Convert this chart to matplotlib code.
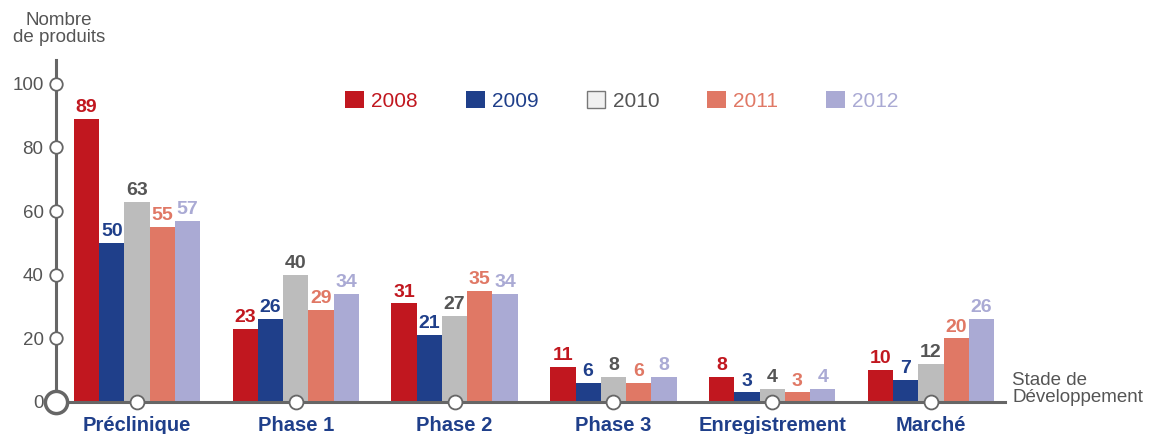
import numpy as np
import matplotlib.pyplot as plt
from matplotlib.patches import Patch

plt.rcParams['font.family'] = ['Liberation Sans', 'DejaVu Sans']

# data
stages = ['Préclinique', 'Phase 1', 'Phase 2', 'Phase 3', 'Enregistrement', 'Marché']
years = ['2008', '2009', '2010', '2011', '2012']
v2008 = [89, 23, 31, 11, 8, 10]
v2009 = [50, 26, 21, 6, 3, 7]
v2010 = [63, 40, 27, 8, 4, 12]
v2011 = [55, 29, 35, 6, 3, 20]
v2012 = [57, 34, 34, 8, 4, 26]
yticks = [0, 20, 40, 60, 80, 100]

series = [v2008, v2009, v2010, v2011, v2012]
bar_colors = ['#c1171f', '#1f3f8a', '#bcbcbc', '#e07865', '#aaaad4']
txt_colors = ['#c1171f', '#1f3f8a', '#555555', '#e07865', '#aaaad4']
grey = '#666666'

fig = plt.figure(figsize=(11.52, 4.34), dpi=100)
ax = fig.add_axes([56/1152, 32/434, (1005-56)/1152, 342/434])

x = np.arange(len(stages))
w = 0.159
for i, vals in enumerate(series):
    pos = x + (i - 2) * w
    ax.bar(pos, vals, width=w, color=bar_colors[i], zorder=2)
    for p, v in zip(pos, vals):
        ax.text(p, v + 0.9, str(v), ha='center', va='bottom', fontsize=14,
                fontweight='bold', color=txt_colors[i])

ax.set_xlim(-0.51, 5.466)
ax.set_ylim(0, 107.5)
for s in ['top', 'right']:
    ax.spines[s].set_visible(False)
for s in ['left', 'bottom']:
    ax.spines[s].set_color(grey)
    ax.spines[s].set_linewidth(2.2)
ax.tick_params(length=0)
ax.set_yticks(yticks)
ax.set_yticklabels([str(t) for t in yticks], fontsize=13.5, color='#555555')
ax.tick_params(axis='y', pad=9)
ax.set_xticks([])

# circle ticks
ax.plot([0]*5, yticks[1:], 'o', ms=9, mfc='white', mec=grey, mew=1.3,
        transform=ax.get_yaxis_transform(), clip_on=False, zorder=5)
ax.plot([0], [0], 'o', ms=16, mfc='white', mec=grey, mew=2.5,
        transform=ax.transAxes, clip_on=False, zorder=6)
ax.plot(x, [0]*len(x), 'o', ms=10, mfc='white', mec=grey, mew=1.3,
        transform=ax.get_xaxis_transform(), clip_on=False, zorder=5)

for xi, name in zip(x, stages):
    ax.text(xi, -4.3, name, ha='center', va='top', fontsize=14.5, fontweight='bold',
            color='#1f3f8a', clip_on=False)

fig.text(59/1152, 1 - 29/434, 'Nombre\nde produits', ha='center', va='center',
         fontsize=13.5, color='#555555', linespacing=1.0)
fig.text(1012/1152, 1 - 389/434, 'Stade de\nDéveloppement', ha='left', va='center',
         fontsize=13.5, color='#555555', linespacing=1.0)

handles = []
for i, y in enumerate(years):
    if i == 2:
        handles.append(Patch(facecolor='#f0f0f0', edgecolor='#777777', linewidth=1, label=y))
    else:
        handles.append(Patch(facecolor=bar_colors[i], edgecolor='none', label=y))
leg = fig.legend(handles=handles, ncol=5, loc='center', frameon=False,
                 bbox_to_anchor=(622/1152, 1 - 101/434), fontsize=15,
                 handlelength=0.9, handleheight=0.9, handletextpad=0.35,
                 columnspacing=2.3)
for t, c in zip(leg.get_texts(), txt_colors):
    t.set_color(c)

fig.savefig('out.png', dpi=100)
